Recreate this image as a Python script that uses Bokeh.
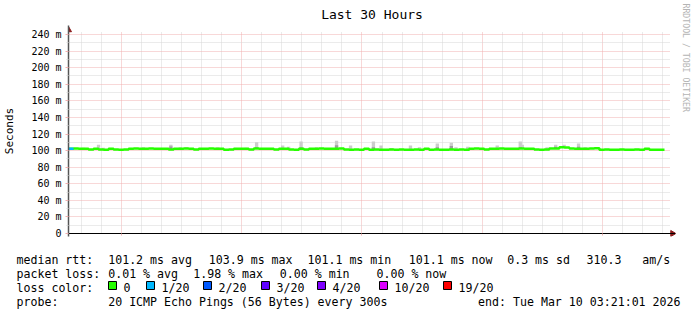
from datetime import datetime, timedelta
from bokeh.plotting import figure
from bokeh.models import (FixedTicker, Grid, Title, ColumnDataSource, Range1d)
from bokeh.core.properties import value
from bokeh.embed import file_html
from bokeh.resources import INLINE

# ---------------- data ----------------
start_time = datetime(2026, 3, 8, 21, 21, 1)
end_time = datetime(2026, 3, 10, 3, 21, 1)
bin_minutes = 15

median_ms = [
    102.2, 102.4, 102.3, 102.2, 101.2, 102.3, 101.2, 101.1, 102.2, 101.2,
    101.1, 101.2, 102.3, 102.4, 102.2, 102.3, 102.4, 102.3, 102.2, 102.3,
    101.2, 102.2, 102.3, 102.4, 102.3, 101.2, 102.2, 102.3, 102.4, 102.3,
    102.2, 101.1, 101.2, 102.3, 102.2, 102.3, 101.2, 102.4, 102.3, 102.2,
    102.3, 101.2, 102.3, 102.2, 101.2, 101.1, 102.3, 101.2, 102.3, 102.2,
    102.4, 102.3, 102.2, 102.3, 102.4, 101.2, 101.1, 101.2, 101.1, 102.2,
    101.1, 101.2, 101.1, 101.1, 101.2, 101.1, 101.2, 101.1, 101.1, 101.2,
    101.1, 102.2, 101.1, 101.2, 101.1, 101.1, 101.2, 101.1, 101.2, 101.1,
    102.3, 102.4, 102.2, 101.2, 102.3, 102.2, 102.4, 102.3, 102.2, 102.3,
    102.4, 102.3, 102.2, 101.2, 101.1, 101.2, 102.4, 102.6, 103.9, 103.6,
    102.4, 102.3, 102.2, 102.3, 102.4, 102.9, 101.1, 101.2, 101.1, 101.1,
    101.2, 101.1, 101.1, 101.2, 101.1, 102.2, 101.1, 101.1, 101.1,
]
loss_count = [1] + [0] * (len(median_ms) - 1)   # lost pings of 20 per bin

# smoke (ping spread) peaks: hours after start, top of spread (ms), darker core top (ms, 0 = none)
smoke_hours = [0.75, 1.50, 1.74, 3.74, 5.11, 5.58, 5.88, 7.45, 8.87, 9.39,
               10.69, 10.99, 11.61, 12.38, 13.38, 14.08, 15.22, 15.60, 16.12, 17.07,
               17.52, 18.41, 19.11, 19.34, 19.93, 21.40, 22.55, 22.65, 23.89, 24.32,
               24.74, 25.46, 25.79]
smoke_top_ms = [103.4, 107.0, 103.5, 104.0, 107.0, 104.0, 104.0, 104.0, 103.5, 110.0,
                106.0, 104.5, 111.0, 104.0, 112.0, 106.0, 111.0, 106.0, 103.0, 106.0,
                104.0, 108.5, 109.5, 104.0, 104.5, 106.0, 111.0, 107.0, 104.0, 107.0,
                107.0, 108.5, 104.0]
smoke_core_ms = [0, 0, 0, 0, 105.0, 0, 0, 0, 0, 104.0,
                 0, 0, 104.0, 0, 106.5, 0, 104.0, 0, 0, 0,
                 0, 104.0, 105.5, 0, 0, 0, 104.0, 0, 0, 104.5,
                 0, 104.5, 0]

y_ticks = [0, 20, 40, 60, 80, 100, 120, 140, 160, 180, 200, 220, 240]
y_tick_labels = ["0", "20 m", "40 m", "60 m", "80 m", "100 m", "120 m", "140 m",
                 "160 m", "180 m", "200 m", "220 m", "240 m"]
x_tick_times = [datetime(2026, 3, 9, 0, 0), datetime(2026, 3, 9, 12, 0), datetime(2026, 3, 10, 0, 0)]
x_tick_labels = ["Mon 00:00", "Mon 12:00", "Tue 00:00"]

title_text = "Last 30 Hours"
y_label = "Seconds"
watermark = "RRDTOOL / TOBI OETIKER"
stat_row1 = ["median rtt:", "101.2 ms avg", "103.9 ms max", "101.1 ms min",
             "101.1 ms now", "0.3 ms sd", "310.3", "am/s"]
stat_row2 = ["packet loss:", "0.01 % avg", "1.98 % max", "0.00 % min", "0.00 % now"]
loss_legend_title = "loss color:"
loss_legend_labels = ["0", "1/20", "2/20", "3/20", "4/20", "10/20", "19/20"]
loss_legend_levels = [0, 1, 2, 3, 4, 10, 19]
probe_label = "probe:"
probe_text = "20 ICMP Echo Pings (56 Bytes) every 300s"
end_text = "end: Tue Mar 10 03:21:01 2026"

# ---------------- styles / layout ----------------
loss_palette = {0: "#26ff00", 1: "#00b8ff", 2: "#0059ff", 3: "#5e00ff",
                4: "#7e00ff", 10: "#dd00ff", 19: "#ff0000"}
MONO = "DejaVu Sans Mono"
W, H = 697, 315
MAIN_H = 254
FRAME_L, FRAME_R, FRAME_T, FRAME_B = 67, 675, 25, 236
AX_L, AX_R, AX_0, AX_240 = 67, 669, 233, 34          # pixel extent of the graph area
PX_PER_MS = (AX_0 - AX_240) / 240.0

EPOCH = datetime(1970, 1, 1)
def ms(d):
    return int((d - EPOCH).total_seconds() * 1000)

t0 = ms(start_time)
t1 = ms(end_time)
ms_per_px = (t1 - t0) / (AX_R - AX_L)
x_end = t1 + (FRAME_R - AX_R) * ms_per_px
y_bot = -(FRAME_B - AX_0) / PX_PER_MS
y_top = (AX_0 - FRAME_T) / PX_PER_MS

p = figure(width=W, height=MAIN_H, output_backend="svg", toolbar_location=None,
           x_range=Range1d(t0, x_end), y_range=Range1d(y_bot, y_top),
           min_border_left=FRAME_L, min_border_right=W - FRAME_R,
           min_border_top=FRAME_T, min_border_bottom=MAIN_H - FRAME_B)
p.outline_line_color = None
p.background_fill_color = "white"
p.border_fill_color = "white"
p.xgrid.visible = False
p.ygrid.visible = False

p.title.text = title_text
p.title.align = "center"
p.title.text_font = MONO
p.title.text_font_size = "13px"
p.title.text_font_style = "normal"
p.title.text_color = "black"
p.title.standoff = 7

# grids
hour_ms = 3600 * 1000
first_hour = ms(datetime(2026, 3, 8, 22, 0))
hour_ticks = [first_hour + i * hour_ms for i in range(30) if first_hour + i * hour_ms <= t1]
six_ticks = [t for t in hour_ticks if (EPOCH + timedelta(milliseconds=t)).hour % 6 == 0]
minor_hours = [t for t in hour_ticks if t not in six_ticks]
y_minor = [v + 10 for v in y_ticks[:-1]]

MAJOR_GRID = "#f0b0b0"
MINOR_GRID = "#d6d6d6"
xg = Grid(dimension=0, ticker=FixedTicker(ticks=six_ticks, minor_ticks=minor_hours),
          grid_line_color=MAJOR_GRID, grid_line_dash="1 1", grid_line_width=1,
          minor_grid_line_color=MINOR_GRID, minor_grid_line_dash="1 1", minor_grid_line_width=1)
yg = Grid(dimension=1, ticker=FixedTicker(ticks=y_ticks, minor_ticks=y_minor),
          grid_line_color=MAJOR_GRID, grid_line_dash="1 1", grid_line_width=1,
          minor_grid_line_color=MINOR_GRID, minor_grid_line_dash="1 1", minor_grid_line_width=1)
if "cross_bounds" in Grid.properties():
    xg.cross_bounds = (0, 240 + 2 / PX_PER_MS)
    yg.cross_bounds = (t0, t1)
p.add_layout(xg)
p.add_layout(yg)

# axes
xa = p.xaxis[0]
xa.fixed_location = 0
xa.ticker = FixedTicker(ticks=[ms(t) for t in x_tick_times], minor_ticks=[])
xa.major_label_overrides = {ms(t): lab for t, lab in zip(x_tick_times, x_tick_labels)}
xa.axis_line_color = "black"
xa.major_tick_in = 0
xa.major_tick_out = 2
xa.major_tick_line_color = MAJOR_GRID
xa.major_label_standoff = 2
xa.major_label_text_font = MONO
xa.major_label_text_font_size = "10px"
xa.major_label_text_color = "black"

ya = p.yaxis[0]
ya.ticker = FixedTicker(ticks=y_ticks, minor_ticks=y_minor)
ya.major_label_overrides = {v: lab for v, lab in zip(y_ticks, y_tick_labels)}
ya.axis_line_color = "#555555"
ya.axis_line_width = 1.5
ya.major_tick_in = 0
ya.major_tick_out = 3
ya.major_tick_line_color = MAJOR_GRID
ya.minor_tick_in = 0
ya.minor_tick_out = 2
ya.minor_tick_line_color = MINOR_GRID
ya.major_label_standoff = 4
ya.major_label_text_font = MONO
ya.major_label_text_font_size = "10px"
ya.major_label_text_color = "black"
ya.axis_label = y_label
ya.axis_label_text_font = MONO
ya.axis_label_text_font_size = "11px"
ya.axis_label_text_font_style = "normal"
ya.axis_label_text_color = "black"
ya.axis_label_standoff = 12

# watermark on the right side
p.add_layout(Title(text=watermark, align="left", text_font=MONO, text_font_size="8.2px",
                   text_font_style="normal", text_color="#b4b4b4", standoff=10, offset=-22), "right")

# smoke
bin_ms = bin_minutes * 60 * 1000
half = 5 * 60 * 1000
smoke_x = [t0 + h * hour_ms for h in smoke_hours]
base_vals = [median_ms[min(int((sx - t0) // bin_ms), len(median_ms) - 1)] for sx in smoke_x]
smoke_src = ColumnDataSource(dict(left=[x - half for x in smoke_x], right=[x + half for x in smoke_x],
                                  bottom=base_vals, top=smoke_top_ms))
p.quad(left="left", right="right", bottom="bottom", top="top", source=smoke_src,
       fill_color="#cccccc", line_color=None)
core_idx = [i for i, c in enumerate(smoke_core_ms) if c > 0]
core_src = ColumnDataSource(dict(left=[smoke_x[i] - half for i in core_idx],
                                 right=[smoke_x[i] + half for i in core_idx],
                                 bottom=[base_vals[i] for i in core_idx],
                                 top=[smoke_core_ms[i] for i in core_idx]))
p.quad(left="left", right="right", bottom="bottom", top="top", source=core_src,
       fill_color="#9c9c9c", line_color=None)

# median line (step) coloured by loss
xs = [t0 + i * bin_ms for i in range(len(median_ms) + 1)]
ys = median_ms + [median_ms[-1]]
p.step(xs, ys, mode="after", line_color=loss_palette[0], line_width=2.5)
for i, lc in enumerate(loss_count):
    if lc > 0:
        p.segment(x0=[xs[i]], y0=[median_ms[i]], x1=[xs[i + 1]], y1=[median_ms[i]],
                  line_color=loss_palette[lc], line_width=2.5)

# axis arrow heads
ARROW = "#8b1a1a"
p.scatter(x=[t0], y=[240 + 4.5 / PX_PER_MS], marker="triangle", size=6,
          fill_color=ARROW, line_color=ARROW)
p.scatter(x=[t1 + 3 * ms_per_px], y=[0], marker="triangle", size=6, angle=-1.5708,
          fill_color=ARROW, line_color=ARROW)

# ---------------- footer with statistics and legend ----------------
FOOT_H = H - MAIN_H
f = figure(width=W, height=FOOT_H, output_backend="svg", toolbar_location=None,
           x_range=Range1d(0, W), y_range=Range1d(H, MAIN_H),
           min_border=0, min_border_left=0, min_border_right=0,
           min_border_top=0, min_border_bottom=0)
f.axis.visible = False
f.grid.visible = False
f.outline_line_color = None
f.background_fill_color = "white"
f.border_fill_color = "white"

def put(texts, xs_, y, align="left"):
    f.text(x=xs_, y=[y] * len(texts), text=texts, text_font=value(MONO),
           text_font_size=value("11.6px"), text_color="black",
           text_align=align, text_baseline="alphabetic")

ROW_Y = [259, 273, 287, 301]
put(stat_row1, [16, 107.7, 208.3, 307, 408.3, 506.7, 586, 641.7], ROW_Y[0])
put(stat_row2, [16, 107.7, 192.7, 279.3, 376], ROW_Y[1])
put([loss_legend_title], [16], ROW_Y[2])
box_left = [108, 146, 203, 261, 317, 379, 443]
f.quad(left=box_left, right=[b + 8 for b in box_left], top=[281] * len(box_left),
       bottom=[289] * len(box_left), fill_color=[loss_palette[l] for l in loss_legend_levels],
       line_color="black", line_width=1)
put(loss_legend_labels, [b + 15 for b in box_left], ROW_Y[2])
put([probe_label, probe_text], [16, 107.7], ROW_Y[3])
put([end_text], [680], ROW_Y[3], align="right")

open("out.html", "w").write(file_html([p, f], INLINE))
